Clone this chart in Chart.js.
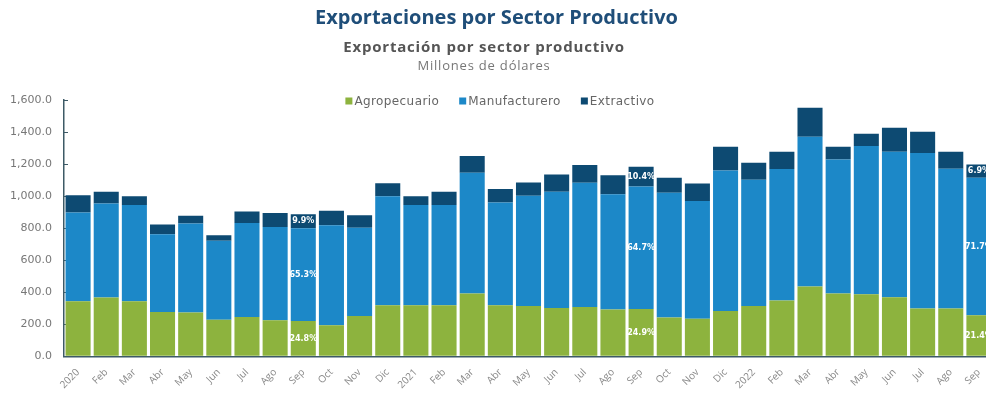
<!DOCTYPE html>
<html>
<head>
<meta charset="utf-8">
<title>Exportaciones por Sector Productivo</title>
<script src="https://cdn.jsdelivr.net/npm/chart.js@4.4.0/dist/chart.umd.min.js"></script>
<style>
  html, body { margin: 0; padding: 0; background: #fff; overflow: hidden; }
  #wrap { width: 1000px; height: 396px; }
</style>
</head>
<body>
<div id="wrap"><canvas id="exportaciones"></canvas></div>
<script>
// Meses (ene 2020 - sep 2022), el primero de cada año lleva el año
var meses = ['2020', 'Feb', 'Mar', 'Abr', 'May', 'Jun', 'Jul', 'Ago', 'Sep', 'Oct', 'Nov', 'Dic',
             '2021', 'Feb', 'Mar', 'Abr', 'May', 'Jun', 'Jul', 'Ago', 'Sep', 'Oct', 'Nov', 'Dic',
             '2022', 'Feb', 'Mar', 'Abr', 'May', 'Jun', 'Jul', 'Ago', 'Sep'];

// Millones de dólares por sector
var agropecuario = [344, 367, 344, 277, 273, 229, 246, 225, 220, 194, 252, 319,
                    319, 319, 392, 319, 315, 302, 308, 292, 295, 242, 235, 283,
                    315, 348, 436, 392, 388, 369, 298, 298, 256];
var manufacturero = [554, 587, 600, 485, 556, 492, 587, 583, 579, 625, 550, 681,
                     625, 625, 754, 641, 687, 725, 775, 720, 765, 779, 734, 877,
                     787, 821, 935, 837, 925, 908, 971, 873, 859];
var extractivo = [108, 73, 56, 61, 48, 35, 71, 86, 88, 89, 79, 81,
                  56, 83, 104, 84, 83, 108, 111, 119, 123, 94, 110, 148,
                  106, 108, 181, 79, 77, 150, 133, 106, 83];

// Barras con la participación de cada sector (septiembre de cada año)
var barrasConPorcentaje = [8, 20, 32];

var colores = {
    agropecuario: '#8db33e',
    manufacturero: '#1c88c8',
    extractivo: '#0d4a72'
};

Chart.defaults.font.family = '"Open Sans", sans-serif';

// Subtítulo, unidades y leyenda dentro del área de la gráfica
var textoExtra = {
    id: 'textoExtra',
    afterDraw: function (chart) {
        var ctx = chart.ctx;
        ctx.save();
        ctx.textBaseline = 'middle';

        ctx.textAlign = 'center';
        ctx.fillStyle = '#555';
        ctx.font = 'bold 15px "Open Sans"';
        ctx.letterSpacing = '0.8px';
        ctx.fillText('Exportación por sector productivo', 484, 48);
        ctx.fillStyle = '#777';
        ctx.font = '13px "Open Sans"';
        ctx.fillText('Millones de dólares', 484, 66);

        // leyenda
        ctx.textAlign = 'left';
        ctx.font = '12px "DejaVu Sans"';
        ctx.letterSpacing = '0.4px';
        var caja = 7, hueco = 2, separacion = 20;
        var items = chart.data.datasets.map(function (ds) {
            return { texto: ds.label, color: ds.backgroundColor, ancho: ctx.measureText(ds.label).width };
        });
        var total = items.reduce(function (s, it) { return s + caja + hueco + it.ancho; }, 0) + separacion * (items.length - 1);
        var x = 500 - total / 2;
        var y = 101;
        items.forEach(function (it) {
            ctx.fillStyle = it.color;
            ctx.fillRect(x, y - caja / 2, caja, caja);
            x += caja + hueco;
            ctx.fillStyle = '#666';
            ctx.fillText(it.texto, x, y + 0.5);
            x += it.ancho + separacion;
        });
        ctx.restore();
    }
};

// Porcentaje de cada sector sobre el total del mes
var porcentajes = {
    id: 'porcentajes',
    afterDatasetsDraw: function (chart) {
        var ctx = chart.ctx;
        ctx.save();
        ctx.font = 'bold 8px "DejaVu Sans"';
        ctx.fillStyle = '#fff';
        ctx.textAlign = 'center';
        ctx.textBaseline = 'middle';
        barrasConPorcentaje.forEach(function (i) {
            var total = 0;
            chart.data.datasets.forEach(function (ds) { total += ds.data[i]; });
            chart.data.datasets.forEach(function (ds, d) {
                var barra = chart.getDatasetMeta(d).data[i];
                var pct = (ds.data[i] / total * 100).toFixed(1) + '%';
                ctx.fillText(pct, barra.x, (barra.y + barra.base) / 2);
            });
        });
        ctx.restore();
    }
};

var ctx = document.getElementById('exportaciones').getContext('2d');

var myChart = new Chart(ctx, {
    type: 'bar',
    data: {
        labels: meses,
        datasets: [{
            label: 'Agropecuario',
            data: agropecuario,
            backgroundColor: colores.agropecuario
        }, {
            label: 'Manufacturero',
            data: manufacturero,
            backgroundColor: colores.manufacturero
        }, {
            label: 'Extractivo',
            data: extractivo,
            backgroundColor: colores.extractivo
        }]
    },
    options: {
        responsive: true,
        maintainAspectRatio: false,
        animation: false,
        layout: {
            padding: { left: 0, right: 7, top: 0, bottom: 3 }
        },
        datasets: {
            bar: {
                barPercentage: 0.89,
                categoryPercentage: 1.0,
                borderWidth: 0
            }
        },
        plugins: {
            legend: { display: false },
            tooltip: { enabled: false },
            title: {
                display: true,
                text: 'Exportaciones por Sector Productivo',
                color: '#1f4e79',
                font: { size: 20, weight: 'bold' },
                padding: { top: 6, bottom: 70 }
            }
        },
        scales: {
            x: {
                stacked: true,
                grid: { display: false },
                border: { display: true, color: '#3d5a66', width: 1.5 },
                ticks: {
                    color: '#888',
                    font: { size: 10 },
                    autoSkip: false,
                    maxRotation: 45,
                    minRotation: 45,
                    padding: 2
                }
            },
            y: {
                stacked: true,
                min: 0,
                max: 1600,
                // marcas cortas hacia dentro del eje
                grid: { drawOnChartArea: false, drawTicks: true, tickLength: -4, color: '#3d5a66' },
                border: { display: true, color: '#3d5a66', width: 1.5 },
                ticks: {
                    stepSize: 200,
                    color: '#777',
                    font: { family: '"DejaVu Sans"', size: 11 },
                    padding: 16,
                    callback: function (value) {
                        return value.toLocaleString('en-US', { minimumFractionDigits: 1, maximumFractionDigits: 1 });
                    }
                },
                afterFit: function (scale) {
                    scale.width = 64;
                }
            }
        }
    },
    plugins: [textoExtra, porcentajes]
});
</script>
</body>
</html>
